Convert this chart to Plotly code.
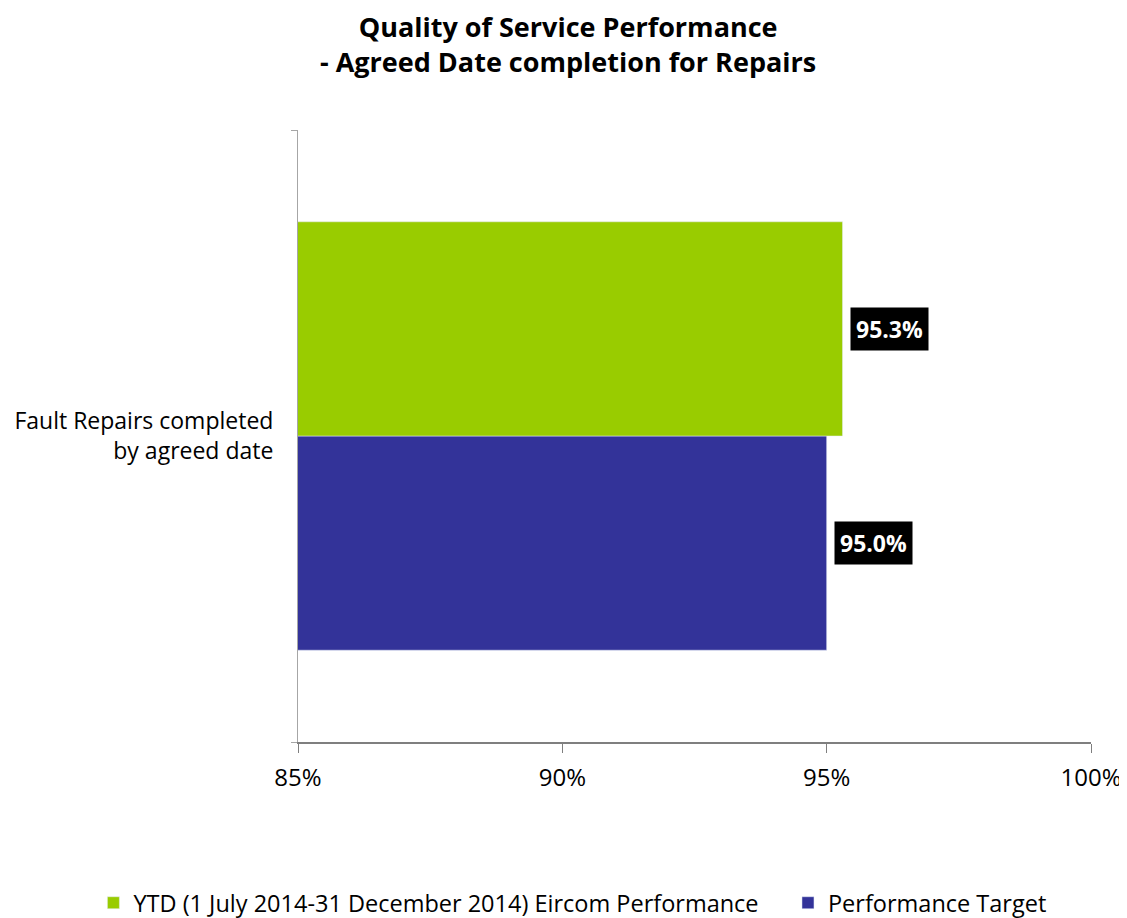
import plotly.graph_objects as go

# chart data
categories = ["Fault Repairs completed<br>by agreed date"]
ytd_name = "YTD (1 July 2014-31 December 2014) Eircom Performance"
target_name = "Performance Target"
ytd_values = [0.953]
target_values = [0.950]
x_ticks = [0.85, 0.90, 0.95, 1.00]

FONT = "Open Sans"
GREEN = "#99CC00"
BLUE = "#333399"
BAR_GAP = 0.3

fig = go.Figure()

# plotly stacks grouped horizontal bars bottom-up, so target goes first
fig.add_trace(go.Bar(
    y=categories, x=target_values, name=target_name, orientation="h",
    marker=dict(color=BLUE), legendrank=2,
))
fig.add_trace(go.Bar(
    y=categories, x=ytd_values, name=ytd_name + "\u00a0" * 4, orientation="h",
    marker=dict(color=GREEN), legendrank=1,
))

# data labels: black boxes just past the bar end
half = (1 - BAR_GAP) / 4
for val, ypos in [(ytd_values[0], 0.5 + half), (target_values[0], 0.5 - half)]:
    fig.add_annotation(
        x=val, xref="x", y=ypos, yref="paper",
        text="<b>%.1f%%</b>" % (val * 100),
        showarrow=False, xanchor="left", yanchor="middle", xshift=7,
        bgcolor="black", borderpad=5,
        font=dict(color="white", size=23, family=FONT),
    )

# margins allow for the 8px page offset of the html body
fig.update_layout(
    width=1127, height=918,
    margin=dict(l=290, r=44, t=122, b=184, autoexpand=False),
    barmode="group", bargap=BAR_GAP, bargroupgap=0,
    plot_bgcolor="white", paper_bgcolor="white",
    font=dict(family=FONT, size=23, color="black"),
    title=dict(
        text="<b>Quality of Service Performance<br>- Agreed Date completion for Repairs</b>",
        x=0.497, xanchor="center", y=0.968, yanchor="middle",
        font=dict(size=27, family=FONT, color="black"),
    ),
    legend=dict(
        orientation="h", x=-0.258, xanchor="left",
        y=-0.263, yanchor="middle",
        font=dict(size=23.5, family=FONT), itemwidth=30,
        traceorder="normal",
    ),
    showlegend=True,
)

fig.update_xaxes(
    range=[0.85, 1.0], tickvals=x_ticks, tickformat=".0%",
    showgrid=False, zeroline=False, automargin=False,
    showline=True, linecolor="#7f7f7f", linewidth=2,
    ticks="outside", ticklen=9, tickcolor="#7f7f7f", tickwidth=1,
    tickfont=dict(size=24), ticklabelstandoff=4,
)
fig.update_yaxes(
    showgrid=False, zeroline=False, automargin=False,
    showline=True, linecolor="#a6a6a6", linewidth=1,
    ticks="outside", ticklen=6, tickcolor="#a6a6a6", tickson="boundaries",
    tickfont=dict(size=23), ticklabelstandoff=19,
)

fig.write_html("out.html")
